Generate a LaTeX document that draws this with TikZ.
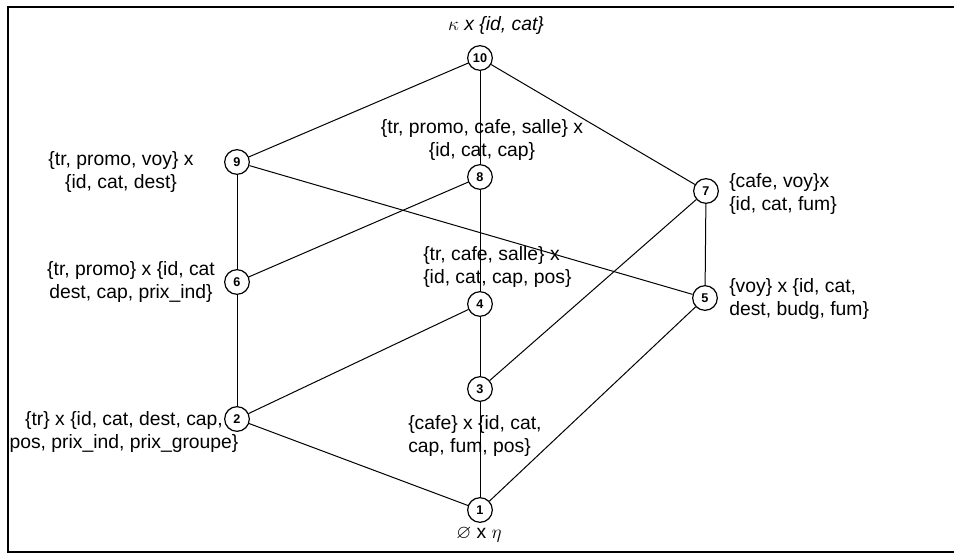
\documentclass[tikz,border=0pt]{standalone}
\usepackage{fontspec}
\setmainfont{Liberation Sans}
\usepackage{amssymb}

\tikzset{
  vert/.style={circle, draw, line width=0.9pt, minimum size=18.5pt, inner sep=0pt,
    fill=white, font=\fontsize{9.5}{11}\selectfont\bfseries},
  lbl/.style={inner sep=0pt, font=\fontsize{14.5}{17.5}\selectfont},
  edge/.style={line width=0.75pt},
}

\begin{document}
\begin{tikzpicture}[x=0.75pt,y=0.75pt,yscale=-1,xscale=1]
    \useasboundingbox (0,0) rectangle (954,554);

    %Frame
    \draw [line width=2.2pt] (956,7) -- (8,7) -- (8,552) -- (956,552) ;

    % Text Node
    \node [lbl] (t10) at (496,25) {$\kappa$ \textit{x \{id, cat\}}};
    % Text Node
    \node [lbl, align=center] (t9) at (121,172) {\{tr, promo, voy\} x\\\{id, cat, dest\}};
    % Text Node
    \node [lbl, align=center] (t8) at (482,140) {\{tr, promo, cafe, salle\} x\\\{id, cat, cap\}};
    % Text Node
    \node [lbl, anchor=west, align=left] (t7) at (729,194) {\{cafe, voy\}x\\\{id, cat, fum\}};
    % Text Node
    \node [lbl, align=center] (t6) at (131,282) {\{tr, promo\} x \{id, cat\\dest, cap, prix\_ind\}};
    % Text Node
    \node [lbl, anchor=west, align=left] (t5) at (729,299) {\{voy\} x \{id, cat,\\dest, budg, fum\}};
    % Text Node
    \node [lbl, anchor=west, align=left] (t4) at (423,267) {\{tr, cafe, salle\} x\\\{id, cat, cap, pos\}};
    % Text Node
    \node [lbl, anchor=west, align=left] (t3) at (408,436) {\{cafe\} x \{id, cat,\\cap, fum, pos\}};
    % Text Node
    \node [lbl, align=center] (t2) at (124,432) {\{tr\} x \{id, cat, dest, cap,\\pos, prix\_ind, prix\_groupe\}};
    % Text Node
    \node [lbl] (t1) at (479,535) {$\varnothing$ x $\eta$};

    % Vertices
    \node [vert] (n10) at (480,58) {10};
    \node [vert] (n9) at (237,162) {9};
    \node [vert] (n8) at (480,177) {8};
    \node [vert] (n7) at (706,191) {7};
    \node [vert] (n6) at (237,282) {6};
    \node [vert] (n5) at (705,298) {5};
    \node [vert] (n4) at (480,304) {4};
    \node [vert] (n3) at (480,389) {3};
    \node [vert] (n2) at (237,419) {2};
    \node [vert] (n1) at (480,510) {1};

    %Straight Lines
    \draw [edge] (n10) -- (n9) ;
    \draw [edge] (n10) -- (n8) ;
    \draw [edge] (n10) -- (n7) ;
    \draw [edge] (n9) -- (n6) ;
    \draw [edge] (n9) -- (n5) ;
    \draw [edge] (n8) -- (n6) ;
    \draw [edge] (n8) -- (n4) ;
    \draw [edge] (n7) -- (n5) ;
    \draw [edge] (n7) -- (n3) ;
    \draw [edge] (n6) -- (n2) ;
    \draw [edge] (n4) -- (n2) ;
    \draw [edge] (n4) -- (n3) ;
    \draw [edge] (n5) -- (n1) ;
    \draw [edge] (n3) -- (n1) ;
    \draw [edge] (n2) -- (n1) ;

\end{tikzpicture}
\end{document}
